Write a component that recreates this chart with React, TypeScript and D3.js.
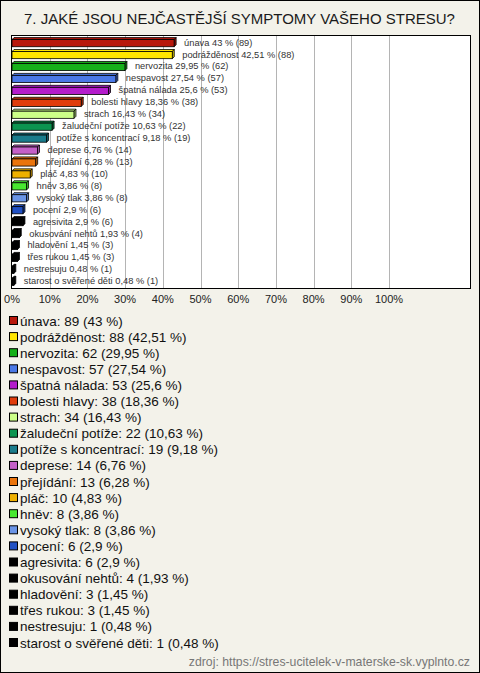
import React from "react";
import * as d3 from "d3";

const categories = ["únava","podrážděnost","nervozita","nespavost","špatná nálada","bolesti hlavy","strach","žaludeční potíže","potíže s koncentrací","deprese","přejídání","pláč","hněv","vysoký tlak","pocení","agresivita","okusování nehtů","hladovění","třes rukou","nestresuju","starost o svěřené děti"];
const counts = [89,88,62,57,53,38,34,22,19,14,13,10,8,8,6,6,4,3,3,1,1];
const percents = [43,42.51,29.95,27.54,25.6,18.36,16.43,10.63,9.18,6.76,6.28,4.83,3.86,3.86,2.9,2.9,1.93,1.45,1.45,0.48,0.48];
const colors = ["#b8180c","#ffe600","#16b01a","#4a78e6","#b41ccc","#e03c0c","#ccff88","#0c9450","#1a7c8c","#c460c8","#ea740c","#eeb000","#48e830","#6a94e6","#2050c4","#000000","#000000","#000000","#000000","#000000","#000000"];
const xTicks = [0,10,20,30,40,50,60,70,80,90,100];
const title = "7. JAKÉ JSOU NEJČASTĚJŠÍ SYMPTOMY VAŠEHO STRESU?";
const footer = "zdroj: https://stres-ucitelek-v-materske-sk.vyplnto.cz";

const W = 480, H = 673;
const plot = { left: 11, right: 470, top: 35, bottom: 288 };
const fmt = (v: number) => String(v).replace(".", ",");

export default function App() {
  const x = d3.scaleLinear().domain([0, 100]).range([12, 389]);
  const y = d3.scaleBand<string>().domain(categories).range([plot.top, plot.bottom]).paddingInner(0.4).paddingOuter(0.3);
  const legendY = d3.scalePoint<string>().domain(categories).range([322, 644]);
  const depth = 2;
  const font = "Arial, 'Liberation Sans', sans-serif";
  return (
    <svg width={W} height={H} style={{ position: "absolute", left: 0, top: 0 }} fontFamily={font}>
      <rect x={0.5} y={0.5} width={W - 1} height={H - 1} fill="#f3f2ea" stroke="#000" />
      <text x={W / 2 - 0.5} y={24} textAnchor="middle" fontSize={15} fill="#1a1a1a">{title}</text>
      <rect x={plot.left + 0.5} y={plot.top + 0.5} width={plot.right - plot.left} height={plot.bottom - plot.top} fill="#fff" stroke="#000" />
      {xTicks.map((t) => (
        <g key={t}>
          {t > 0 && <line x1={Math.round(x(t)) + 0.5} x2={Math.round(x(t)) + 0.5} y1={plot.top + 1} y2={plot.bottom} stroke="#b4b4b4" />}
          <text x={x(t)} y={303} textAnchor="middle" fontSize={11} fill="#222">{t}%</text>
        </g>
      ))}
      {categories.map((c, i) => {
        const x0 = x(0);
        const x1 = x(percents[i]);
        const bh = y.bandwidth();
        const yt = (y(c) as number) + depth / 2;
        const col = colors[i];
        const dark = d3.color(col)!.darker(0.6).formatHex();
        return (
          <g key={c}>
            <polygon points={`${x0},${yt} ${x0 + depth},${yt - depth} ${x1 + depth},${yt - depth} ${x1},${yt}`} fill={col} stroke="#000" strokeWidth={0.8} />
            <polygon points={`${x1},${yt} ${x1 + depth},${yt - depth} ${x1 + depth},${yt - depth + bh} ${x1},${yt + bh}`} fill={dark} stroke="#000" strokeWidth={0.8} />
            <rect x={x0} y={yt} width={x1 - x0} height={bh} fill={col} stroke="#000" strokeWidth={0.8} />
            <text x={x1 + 10} y={yt + bh / 2} dominantBaseline="middle" fontSize={9.3} fill="#333">{`${c} ${fmt(percents[i])} % (${counts[i]})`}</text>
          </g>
        );
      })}
      {categories.map((c, i) => {
        const ly = legendY(c) as number;
        return (
          <g key={"l" + c}>
            <rect x={9.5} y={ly - 5.5} width={8} height={8} fill={colors[i]} stroke="#000" />
            <text x={20} y={ly} dominantBaseline="middle" fontSize={13.5} fill="#111">{`${c}: ${counts[i]} (${fmt(percents[i])} %)`}</text>
          </g>
        );
      })}
      <text x={470} y={666} textAnchor="end" fontSize={12.25} fill="#777">{footer}</text>
    </svg>
  );
}
